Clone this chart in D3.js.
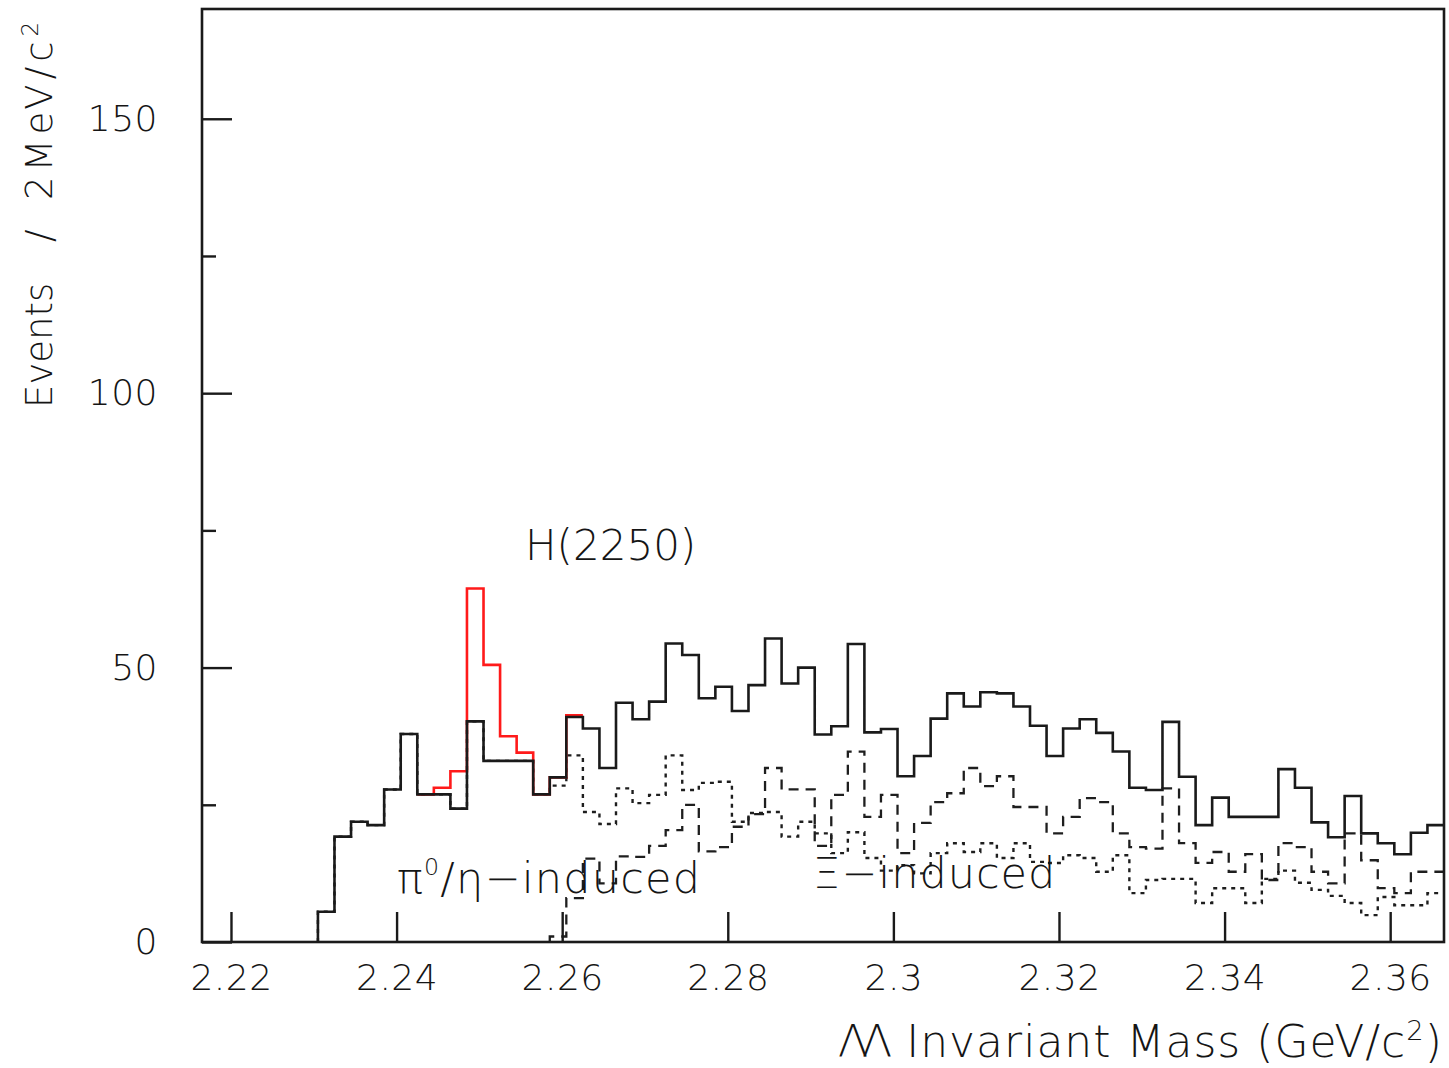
<!DOCTYPE html>
<html>
<head>
<meta charset="utf-8">
<script src="https://cdn.jsdelivr.net/npm/d3@7"></script>
<style>
  html, body { margin: 0; background: #fff; }
  svg { display: block; }
  text { font-family: "DejaVu Sans", "Liberation Sans", sans-serif; fill: #151515; }
</style>
</head>
<body>
<svg id="chart" width="1449" height="1068"></svg>
<script>
// ---- data --------------------------------------------------------------------
// histogram binning: 2 MeV/c^2 bins, axis runs 2.2165 .. 2.3665 GeV/c^2
const binWidth = 0.002;
const xDomain = [2.2165, 2.3665];
const yDomain = [0, 170];

const xTicks = [2.22, 2.24, 2.26, 2.28, 2.30, 2.32, 2.34, 2.36];
const xTickLabels = ["2.22", "2.24", "2.26", "2.28", "2.3", "2.32", "2.34", "2.36"];
const yTicks = [0, 50, 100, 150];
const yTickLabels = ["0", "50", "100", "150"];
const yMinorTicks = [25, 75, 125];

// total (solid black), first bin starts at 2.2305
const totalStart = 2.2305;
const totalCounts = [
  5.5, 19.2, 21.9, 21.3, 27.8, 37.9, 26.9, 26.9, 24.3, 40.2,
  33, 33, 33, 26.9, 30, 41, 38.9, 31.7, 43.6, 40.6,
  43.8, 54.4, 52.3, 44.4, 46.5, 42.1, 46.8, 55.3, 47.1, 50,
  37.8, 39.3, 54.3, 38.2, 38.8, 30.2, 33.9, 40.7, 45.3, 42.9,
  45.5, 45.3, 42.9, 39.4, 33.9, 38.9, 40.6, 38.1, 34.7, 28.1,
  27.7, 40.1, 30.1, 21.3, 26.3, 22.8, 22.8, 22.8, 31.5, 28.1,
  21.8, 19.1, 26.6, 19.8, 18, 16, 19.9, 21.3
];

// total incl. the H(2250) excess (red), bins 2.2425 .. 2.2625
const signalStart = 2.2425;
const signalCounts = [26.9, 28.1, 31.1, 64.4, 50.5, 37.5, 34.5, 26.9, 30, 41.3];

// pi0/eta-induced (dotted)
const pi0EtaStart = 2.2305;
const pi0EtaCounts = [
  5.5, 19.2, 21.9, 21.3, 27.8, 37.9, 26.9, 26.9, 24.3, 40.2,
  33, 33, 33, 26.9, 28.5, 34, 23.7, 21.5, 28, 25.3,
  26.8, 34, 27.7, 29, 29.2, 21.9, 23.5, 23.7, 19.2, 21.9,
  19.8, 16.2, 20, 15.3, 13, 14, 12.5, 16.2, 18, 16.4,
  18, 15.3, 18, 14.6, 14.4, 15.8, 15.3, 12.8, 15.8, 8.9,
  11.3, 11.5, 11.5, 7.1, 9.8, 9.8, 7.1, 11.5, 13, 10.8,
  9.5, 8.4, 7.1, 4.9, 8.2, 6.7, 6.7, 8.9
];

// Xi-induced (dashed)
const xiStart = 2.2585;
const xiCounts = [
  1, 8, 15.2, 10.7, 15.6, 15.5, 17.5, 20.4, 25, 16.5,
  17.3, 21, 23.3, 31.7, 27.8, 27.8, 17.5, 26.8, 34.7, 22.8,
  26.8, 16.2, 21.7, 25.5, 27.1, 31.7, 28.4, 30.2, 24.6, 24.6,
  19.8, 22.8, 26.2, 25.5, 19.8, 17.3, 17, 28, 18, 14.4,
  16.4, 12.8, 16, 11.3, 18, 17.3, 12.8, 10.7, 19.8, 14.9,
  9.8, 8.9, 12.8, 12.8
];

// ---- layout ---------------------------------------------------------------------
const frame = { left: 202, top: 9, right: 1444, bottom: 942 };
const svg = d3.select("#chart");

const x = d3.scaleLinear().domain(xDomain).range([frame.left, frame.right]);
const y = d3.scaleLinear().domain(yDomain).range([frame.bottom, frame.top]);

svg.append("defs").append("clipPath").attr("id", "plot")
  .append("rect")
  .attr("x", frame.left).attr("y", frame.top)
  .attr("width", frame.right - frame.left).attr("height", frame.bottom - frame.top);

// histogram -> step outline; fromZero draws the rising edge of the first bin
function stepPoints(start, counts, fromZero) {
  const pts = [];
  if (fromZero) pts.push([start, 0]);
  counts.forEach((c, i) => pts.push([start + i * binWidth, c]));
  pts.push([start + counts.length * binWidth, counts[counts.length - 1]]);
  return pts;
}
const step = d3.line().x((d) => x(d[0])).y((d) => y(d[1])).curve(d3.curveStepAfter);

const gHist = svg.append("g").attr("clip-path", "url(#plot)").attr("fill", "none");

gHist.append("path")            // pi0/eta-induced
  .attr("d", step(stepPoints(pi0EtaStart, pi0EtaCounts, true)))
  .attr("stroke", "#1e1e1e").attr("stroke-width", 2.4).attr("stroke-dasharray", "4,5");

gHist.append("path")            // Xi-induced
  .attr("d", step(stepPoints(xiStart, xiCounts, true)))
  .attr("stroke", "#1e1e1e").attr("stroke-width", 2.3).attr("stroke-dasharray", "10,7");

gHist.append("path")            // with H(2250) excess
  .attr("d", step(stepPoints(signalStart, signalCounts, false)))
  .attr("stroke", "#ff1a1a").attr("stroke-width", 2.6);

gHist.append("path")            // total
  .attr("d", step(stepPoints(totalStart, totalCounts, true)))
  .attr("stroke", "#1a1a1a").attr("stroke-width", 2.6);

// ---- frame + axes ---------------------------------------------------------------
svg.append("rect")
  .attr("x", frame.left).attr("y", frame.top)
  .attr("width", frame.right - frame.left).attr("height", frame.bottom - frame.top)
  .attr("fill", "none").attr("stroke", "#1a1a1a").attr("stroke-width", 2.6);

const xAxis = d3.axisBottom(x).tickValues(xTicks)
  .tickFormat((d, i) => xTickLabels[i]).tickSize(-30).tickPadding(22);
const gx = svg.append("g").attr("transform", `translate(0,${frame.bottom})`).call(xAxis);

const yAxis = d3.axisLeft(y).tickValues(yTicks)
  .tickFormat((d, i) => yTickLabels[i]).tickSize(-30).tickPadding(44);
const gy = svg.append("g").attr("transform", `translate(${frame.left},0)`).call(yAxis);

const yMinor = d3.axisLeft(y).tickValues(yMinorTicks).tickFormat("").tickSize(-14);
const gy2 = svg.append("g").attr("transform", `translate(${frame.left},0)`).call(yMinor);

[gx, gy, gy2].forEach((g) => {
  g.select(".domain").remove();
  g.selectAll(".tick line").attr("stroke", "#1a1a1a").attr("stroke-width", 2.4);
  g.selectAll(".tick text").attr("fill", "#151515")
    .style("font-family", '"DejaVu Sans", sans-serif').style("font-size", "36px")
    .style("font-weight", 200).style("letter-spacing", "0.5px");
});

// ---- labels ------------------------------------------------------------------------
// x title
const xt = svg.append("text").attr("x", 838).attr("y", 1057)
  .attr("font-size", 44).attr("font-weight", 200).attr("letter-spacing", 1);
xt.append("tspan").attr("letter-spacing", -6).text("ΛΛ");
xt.append("tspan").attr("dx", 20).text("Invariant Mass (GeV/c");
xt.append("tspan").attr("font-size", "62%").attr("dy", "-0.62em").text("2");
xt.append("tspan").attr("dy", "0.385em").text(")");

// y title (rotated)
const yt = svg.append("text").attr("transform", "translate(52,408) rotate(-90)")
  .attr("font-size", 37).attr("font-weight", 200);
yt.append("tspan").attr("x", 0).text("Events");
yt.append("tspan").attr("x", 166).text("/");
yt.append("tspan").attr("x", 208).attr("letter-spacing", 5).text("2MeV/c");
yt.append("tspan").attr("font-size", "62%").attr("dy", "-0.62em").text("2");

// annotations
svg.append("text").attr("x", 525).attr("y", 560)
  .attr("font-size", 42).attr("font-weight", 200).text("H(2250)");

const pe = svg.append("text").attr("x", 397).attr("y", 893)
  .attr("font-size", 43).attr("font-weight", 200).attr("letter-spacing", 1.2);
pe.append("tspan").text("π");
pe.append("tspan").attr("font-size", "55%").attr("dy", "-0.75em").text("0");
pe.append("tspan").attr("dy", "0.41em").text("/η−induced");

svg.append("text").attr("x", 813).attr("y", 888)
  .attr("font-size", 43).attr("font-weight", 200).attr("letter-spacing", 1)
  .text("Ξ−induced");
</script>
</body>
</html>
